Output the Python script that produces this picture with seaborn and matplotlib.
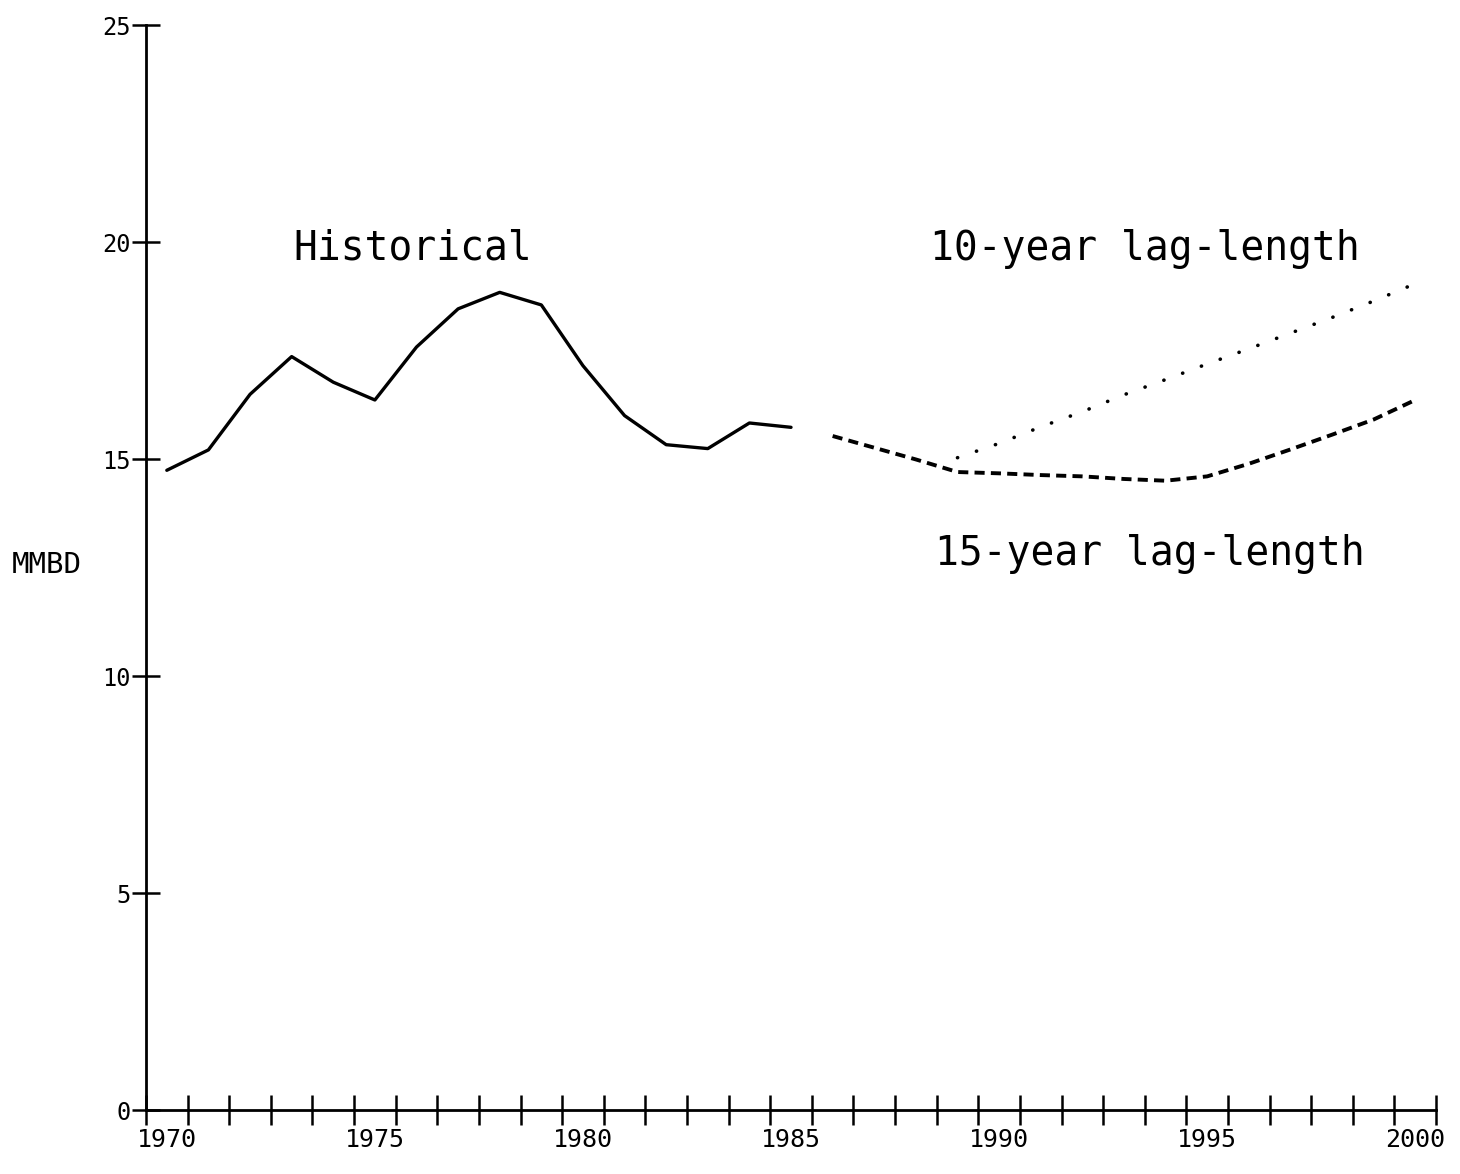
import seaborn as sns
import pandas as pd
import matplotlib.pyplot as plt
from matplotlib.ticker import FixedLocator

# historical consumption, MMBD
hist_years = list(range(1970, 1986))
hist_vals = [14.74, 15.21, 16.49, 17.36, 16.77, 16.36, 17.58, 18.46,
             18.84, 18.55, 17.15, 16.00, 15.33, 15.24, 15.83, 15.73]

# 15-year lag-length projection
lag15_years = list(range(1986, 2001))
lag15_vals = [15.53, 15.26, 14.99, 14.70, 14.67, 14.63, 14.60, 14.54,
              14.50, 14.60, 14.89, 15.22, 15.56, 15.91, 16.36]

# 10-year lag-length projection
lag10_years = list(range(1989, 2001))
lag10_vals = [15.03, 15.36, 15.74, 16.09, 16.48, 16.83, 17.19, 17.54,
              17.90, 18.26, 18.64, 19.04]

y_ticks = [0, 5, 10, 15, 20, 25]
x_label_years = [1970, 1975, 1980, 1985, 1990, 1995, 2000]

hist = pd.DataFrame({'year': hist_years, 'mmbd': hist_vals})
lag15 = pd.DataFrame({'year': lag15_years, 'mmbd': lag15_vals})
lag10 = pd.DataFrame({'year': lag10_years, 'mmbd': lag10_vals})

sns.set_style('ticks', {'axes.edgecolor': 'black', 'text.color': 'black',
                        'xtick.color': 'black', 'ytick.color': 'black'})
plt.rcParams['font.family'] = ['DejaVu Sans Mono', 'DejaVu Sans']

fig = plt.figure(figsize=(14.6, 11.74), dpi=100)
ax = fig.add_axes([0.1, 0.0545, 0.8836, 0.9242])

sns.lineplot(data=hist, x='year', y='mmbd', ax=ax, color='black', lw=2.4)
sns.lineplot(data=lag15, x='year', y='mmbd', ax=ax, color='black', lw=2.8,
             dashes=False, linestyle=(0, (2.6, 1.6)))
sns.lineplot(data=lag10, x='year', y='mmbd', ax=ax, color='black', lw=2.6,
             linestyle=(0, (0.05, 5.5)), dash_capstyle='round')

ax.set_xlim(1969.5, 2000.5)
ax.set_ylim(0, 25)

# year boundaries as crossing ticks, labels centred under each year
ax.xaxis.set_major_locator(FixedLocator([y - 0.5 for y in range(1970, 2002)]))
ax.xaxis.set_major_formatter(plt.NullFormatter())
ax.xaxis.set_minor_locator(FixedLocator(x_label_years))
ax.set_xticklabels([str(y) for y in x_label_years], minor=True)
ax.tick_params(axis='x', which='major', direction='inout', length=22, width=1.8)
ax.tick_params(axis='x', which='minor', length=0, pad=13, labelsize=18)

ax.set_yticks(y_ticks)
ax.set_yticklabels([str(v) for v in y_ticks])
ax.tick_params(axis='y', direction='inout', length=20, width=1.8, pad=1, labelsize=17)

sns.despine(ax=ax)
for s in ['left', 'bottom']:
    ax.spines[s].set_linewidth(2)

ax.set_xlabel('')
ax.set_ylabel('')
fig.text(0.032, 0.519, 'MMBD', fontsize=21, ha='center', va='center')

ax.text(1973.05, 19.85, 'Historical', fontsize=28.5, va='center')
ax.text(1988.35, 19.85, '10-year lag-length', fontsize=28.5, va='center')
ax.text(1988.45, 12.8, '15-year lag-length', fontsize=28.5, va='center')

plt.savefig('out.png', dpi=100, facecolor='white')
